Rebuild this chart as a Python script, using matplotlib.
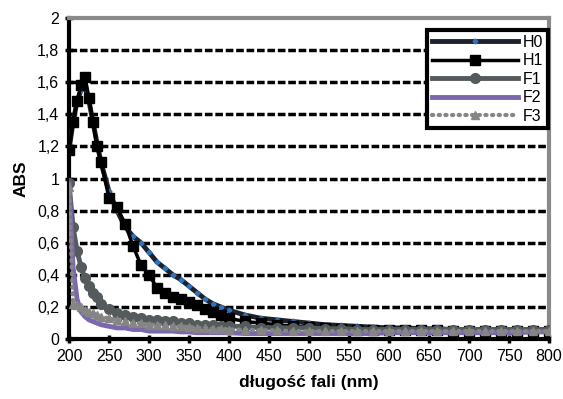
import matplotlib.pyplot as plt
from matplotlib.ticker import FuncFormatter, MultipleLocator

plt.rcParams['font.family'] = ['Liberation Sans', 'DejaVu Sans']

# wavelengths (nm)
wl = [200, 205, 210, 215, 220, 225, 230, 235, 240,
      250, 260, 270, 280, 290, 300, 310, 320, 330, 340, 350, 360, 370, 380, 390, 400,
      420, 440, 460, 480, 500, 520, 540, 560, 580, 600, 620, 640, 660, 680, 700,
      720, 740, 760, 780, 800]

h0 = [1.18, 1.35, 1.48, 1.55, 1.57, 1.48, 1.35, 1.22, 1.10,
      0.92, 0.80, 0.70, 0.64, 0.60, 0.54, 0.48, 0.44, 0.40, 0.37, 0.33, 0.29, 0.25, 0.22, 0.20, 0.18,
      0.15, 0.13, 0.12, 0.11, 0.10, 0.09, 0.085, 0.08, 0.075, 0.07, 0.07, 0.065, 0.065, 0.06, 0.06,
      0.06, 0.06, 0.06, 0.06, 0.06]
h1 = [1.18, 1.35, 1.48, 1.58, 1.63, 1.50, 1.35, 1.20, 1.10,
      0.88, 0.82, 0.72, 0.58, 0.46, 0.40, 0.32, 0.29, 0.26, 0.25, 0.23, 0.21, 0.19, 0.17, 0.15, 0.13,
      0.11, 0.10, 0.09, 0.08, 0.075, 0.07, 0.065, 0.06, 0.06, 0.06, 0.055, 0.055, 0.055, 0.05, 0.05,
      0.05, 0.05, 0.05, 0.05, 0.05]
f1 = [0.97, 0.70, 0.55, 0.45, 0.38, 0.33, 0.29, 0.26, 0.22,
      0.19, 0.16, 0.15, 0.14, 0.13, 0.12, 0.12, 0.11, 0.11, 0.10, 0.10, 0.09, 0.09, 0.09, 0.08, 0.08,
      0.08, 0.07, 0.07, 0.07, 0.07, 0.065, 0.065, 0.06, 0.06, 0.06, 0.06, 0.06, 0.06, 0.06, 0.06,
      0.06, 0.06, 0.06, 0.06, 0.06]
f2 = [0.97, 0.45, 0.25, 0.17, 0.14, 0.12, 0.11, 0.10, 0.09,
      0.08, 0.07, 0.07, 0.06, 0.06, 0.05, 0.05, 0.05, 0.05, 0.045, 0.045, 0.04, 0.04, 0.04, 0.04, 0.04,
      0.035, 0.035, 0.035, 0.035, 0.035, 0.035, 0.035, 0.035, 0.035, 0.04, 0.04, 0.04, 0.04, 0.04, 0.04,
      0.04, 0.04, 0.04, 0.045, 0.045]
f3 = [0.95, 0.22, 0.21, 0.20, 0.18, 0.17, 0.16, 0.15, 0.14,
      0.13, 0.12, 0.11, 0.10, 0.10, 0.09, 0.09, 0.085, 0.08, 0.08, 0.075, 0.07, 0.07, 0.065, 0.065, 0.06,
      0.06, 0.055, 0.055, 0.05, 0.05, 0.05, 0.05, 0.05, 0.05, 0.05, 0.05, 0.05, 0.05, 0.05, 0.05,
      0.05, 0.05, 0.05, 0.05, 0.05]

labels = ['H0', 'H1', 'F1', 'F2', 'F3']

fig = plt.figure(figsize=(5.63, 3.99), dpi=100)
ax = fig.add_axes([0.1226, 0.150, 0.8526, 0.805])

# grid lines (black dashed)
for v in [0.2, 0.4, 0.6, 0.8, 1.0, 1.2, 1.4, 1.6, 1.8]:
    ax.axhline(v, color='black', lw=2.5, ls=(0, (2.2, 0.8)), zorder=1)

ax.plot(wl, h0, color='#1c222c', lw=3.5, marker='D', ms=2.5, mfc='#2f73c0', mec='#2f73c0', label=labels[0], zorder=3)
ax.plot(wl, h1, color='black', lw=2.5, marker='s', ms=7, label=labels[1], zorder=3)
ax.plot(wl, f1, color='#555a5c', lw=3.5, marker='o', ms=7, label=labels[2], zorder=4)
ax.plot(wl, f2, color='#7b67ad', lw=3.5, label=labels[3], zorder=4)
ax.plot(wl, f3, color='#858585', lw=3, ls=(0, (0.3, 1.3)), dash_capstyle='round',
        marker='^', ms=6, label=labels[4], zorder=5)

ax.set_xlim(200, 800)
ax.set_ylim(0, 2)
ax.xaxis.set_major_locator(MultipleLocator(50))
ax.yaxis.set_major_locator(MultipleLocator(0.2))
ax.yaxis.set_major_formatter(FuncFormatter(lambda v, p: '{:g}'.format(round(v, 1)).replace('.', ',')))
ax.tick_params(direction='inout', length=6, width=2.5, labelsize=11.5, pad=4)

for s in ['left', 'bottom']:
    ax.spines[s].set_color('black')
    ax.spines[s].set_linewidth(3)
for s in ['top', 'right']:
    ax.spines[s].set_color('#8a8a8a')
    ax.spines[s].set_linewidth(3)

ax.set_xlabel('długość fali (nm)', fontsize=12.5, fontweight='bold', labelpad=8)
ax.set_ylabel('ABS', fontsize=12.5, fontweight='bold', labelpad=6)

leg = ax.legend(loc='upper right', bbox_to_anchor=(0.998, 0.963), fancybox=False, framealpha=1,
                edgecolor='black', fontsize=11.5, handlelength=5.4, borderpad=0.3,
                labelspacing=0.22, handletextpad=0.3, borderaxespad=0)
leg.get_frame().set_linewidth(3)
leg.set_zorder(10)

fig.savefig('out.png', dpi=100)
